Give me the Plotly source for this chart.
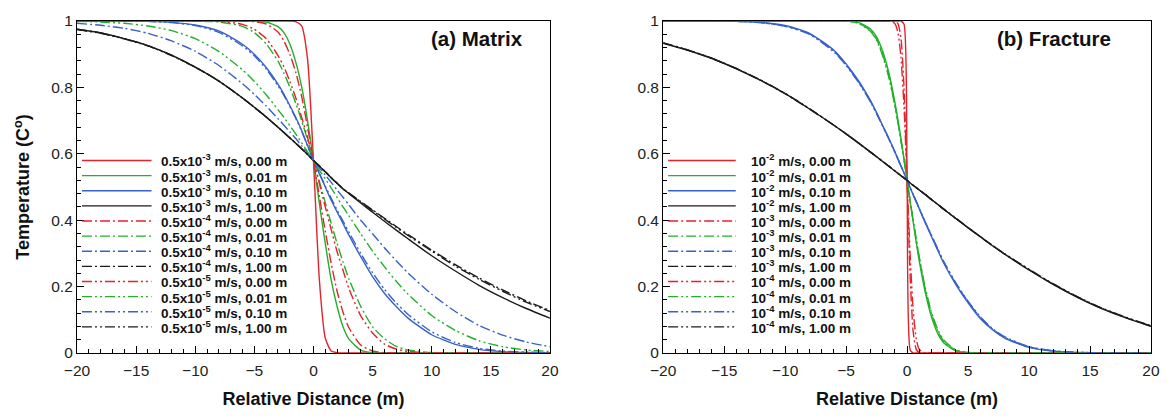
import plotly.graph_objects as go

# ---------------- (a) Matrix: temperature profiles ----------------
dist_matrix = [-20, -18, -16, -14, -12, -10, -8, -6, -5, -4, -3, -2.5, -2, -1.5, -1, -0.5,
               0, 0.5, 1, 1.5, 2, 2.5, 3, 4, 5, 6, 7, 8, 10, 12, 14, 16, 18, 20]

m3_d000 = [1, 1, 1, 1, 1, 1, 1, 1, 1, 1, 1, 1, 1, 0.998, 0.985, 0.885, 0.58, 0.22, 0.045,
           0.006, 0.001, 0, 0, 0, 0, 0, 0, 0, 0, 0, 0, 0, 0, 0]
m3_d001 = [1, 1, 1, 1, 1, 1, 1, 1, 1, 0.997, 0.983, 0.965, 0.931, 0.877, 0.802, 0.70, 0.58,
           0.45, 0.33, 0.22, 0.14, 0.079, 0.042, 0.009, 0.001, 0, 0, 0, 0, 0, 0, 0, 0, 0]
m3_d010 = [1, 1, 1, 0.999, 0.996, 0.988, 0.97, 0.93, 0.90, 0.86, 0.81, 0.78, 0.745, 0.71,
           0.67, 0.625, 0.58, 0.54, 0.50, 0.46, 0.425, 0.39, 0.355, 0.29, 0.23, 0.18, 0.14,
           0.105, 0.055, 0.026, 0.011, 0.004, 0.0015, 0.0005]
m3_d100 = [0.975, 0.964, 0.947, 0.926, 0.897, 0.861, 0.819, 0.768, 0.74, 0.711, 0.68, 0.664,
           0.648, 0.632, 0.615, 0.598, 0.58, 0.563, 0.546, 0.528, 0.511, 0.494, 0.48, 0.452,
           0.424, 0.397, 0.37, 0.344, 0.293, 0.247, 0.204, 0.167, 0.134, 0.105]

m4_d000 = [1, 1, 1, 1, 1, 1, 1, 1, 0.998, 0.991, 0.967, 0.94, 0.90, 0.846, 0.773, 0.68, 0.58,
           0.472, 0.367, 0.27, 0.186, 0.123, 0.076, 0.024, 0.006, 0.001, 0, 0, 0, 0, 0, 0, 0, 0]
m4_d001 = [1, 1, 1, 1, 1, 1, 0.997, 0.984, 0.965, 0.931, 0.879, 0.843, 0.801, 0.753, 0.70,
           0.642, 0.58, 0.517, 0.453, 0.39, 0.33, 0.274, 0.223, 0.14, 0.079, 0.043, 0.02,
           0.009, 0.0014, 0, 0, 0, 0, 0]
m4_d010 = [0.993, 0.987, 0.978, 0.963, 0.94, 0.909, 0.866, 0.811, 0.779, 0.744, 0.706, 0.686,
           0.666, 0.646, 0.624, 0.603, 0.58, 0.558, 0.536, 0.514, 0.491, 0.469, 0.446, 0.40,
           0.359, 0.317, 0.278, 0.241, 0.177, 0.125, 0.083, 0.054, 0.033, 0.019]
m4_d100 = [0.975, 0.964, 0.947, 0.926, 0.897, 0.861, 0.819, 0.768, 0.74, 0.711, 0.68, 0.664,
           0.648, 0.632, 0.615, 0.598, 0.58, 0.563, 0.546, 0.528, 0.511, 0.495, 0.482, 0.456,
           0.431, 0.406, 0.381, 0.357, 0.31, 0.266, 0.226, 0.19, 0.157, 0.128]

m5_d000 = [1, 1, 1, 1, 1, 1, 0.999, 0.99, 0.975, 0.947, 0.896, 0.862, 0.818, 0.769, 0.71,
           0.649, 0.58, 0.51, 0.44, 0.372, 0.305, 0.249, 0.194, 0.112, 0.06, 0.027, 0.012,
           0.0045, 0.0004, 0, 0, 0, 0, 0]
m5_d001 = [0.999, 0.997, 0.993, 0.985, 0.971, 0.947, 0.908, 0.853, 0.818, 0.778, 0.733, 0.71,
           0.685, 0.66, 0.633, 0.606, 0.58, 0.55, 0.525, 0.497, 0.469, 0.44, 0.413, 0.359,
           0.307, 0.26, 0.216, 0.177, 0.113, 0.068, 0.037, 0.019, 0.009, 0.0045]
m5_d010 = [1, 1, 1, 0.999, 0.995, 0.986, 0.966, 0.925, 0.895, 0.855, 0.805, 0.776, 0.742,
           0.707, 0.668, 0.624, 0.58, 0.542, 0.503, 0.466, 0.431, 0.397, 0.364, 0.30, 0.242,
           0.192, 0.151, 0.116, 0.064, 0.032, 0.014, 0.006, 0.0025, 0.001]
m5_d100 = [0.974, 0.963, 0.946, 0.925, 0.896, 0.861, 0.819, 0.768, 0.74, 0.711, 0.68, 0.664,
           0.648, 0.632, 0.615, 0.598, 0.58, 0.563, 0.546, 0.528, 0.511, 0.495, 0.481, 0.455,
           0.429, 0.404, 0.378, 0.354, 0.307, 0.262, 0.222, 0.186, 0.153, 0.125]

matrix_labels = [
    "0.5x10<sup>-3</sup> m/s, 0.00 m", "0.5x10<sup>-3</sup> m/s, 0.01 m",
    "0.5x10<sup>-3</sup> m/s, 0.10 m", "0.5x10<sup>-3</sup> m/s, 1.00 m",
    "0.5x10<sup>-4</sup> m/s, 0.00 m", "0.5x10<sup>-4</sup> m/s, 0.01 m",
    "0.5x10<sup>-4</sup> m/s, 0.10 m", "0.5x10<sup>-4</sup> m/s, 1.00 m",
    "0.5x10<sup>-5</sup> m/s, 0.00 m", "0.5x10<sup>-5</sup> m/s, 0.01 m",
    "0.5x10<sup>-5</sup> m/s, 0.10 m", "0.5x10<sup>-5</sup> m/s, 1.00 m",
]
matrix_series = [m3_d000, m3_d001, m3_d010, m3_d100,
                 m4_d000, m4_d001, m4_d010, m4_d100,
                 m5_d000, m5_d001, m5_d010, m5_d100]

# ---------------- (b) Fracture: temperature profiles ----------------
dist_fracture = [-20, -18, -16, -14, -12, -10, -8, -6, -5, -4, -3, -2.5, -2, -1.5, -1, -0.75,
                 -0.5, -0.25, 0, 0.25, 0.5, 0.75, 1, 1.5, 2, 2.5, 3, 4, 5, 6, 7, 8, 10, 12,
                 14, 16, 18, 20]

f2_d000 = [1] * 17 + [0.99, 0.52, 0.01] + [0] * 18
f2_d001 = [1] * 9 + [0.996, 0.976, 0.952, 0.909, 0.845, 0.756, 0.703, 0.645, 0.584, 0.52,
                     0.456, 0.394, 0.333, 0.277, 0.181, 0.109, 0.06, 0.031, 0.006, 0.001] + [0] * 9
f2_d010 = [1, 1, 1, 0.999, 0.996, 0.987, 0.963, 0.912, 0.871, 0.821, 0.76, 0.724, 0.685,
           0.647, 0.606, 0.585, 0.563, 0.542, 0.52, 0.498, 0.476, 0.455, 0.434, 0.391, 0.351,
           0.31, 0.271, 0.206, 0.151, 0.104, 0.07, 0.045, 0.017, 0.0055, 0.0015, 0.0004, 0, 0]
f2_d100 = [0.933, 0.912, 0.887, 0.856, 0.821, 0.781, 0.735, 0.686, 0.66, 0.633, 0.605, 0.591,
           0.577, 0.563, 0.548, 0.541, 0.534, 0.527, 0.52, 0.512, 0.505, 0.498, 0.491, 0.477,
           0.462, 0.448, 0.433, 0.405, 0.377, 0.35, 0.323, 0.298, 0.25, 0.206, 0.167, 0.133,
           0.105, 0.08]

f3_d000 = [1] * 14 + [0.999, 0.992, 0.948, 0.798, 0.52, 0.231, 0.064, 0.011, 0.001] + [0] * 15
f3_d001 = [1] * 9 + [0.994, 0.971, 0.945, 0.899, 0.835, 0.747, 0.696, 0.64, 0.582, 0.52,
                     0.458, 0.398, 0.34, 0.285, 0.19, 0.118, 0.068, 0.036, 0.008, 0.0015] + [0] * 9
f3_d010 = [1, 1, 1, 0.999, 0.995, 0.985, 0.961, 0.909, 0.868, 0.818, 0.758, 0.722, 0.684,
           0.646, 0.605, 0.584, 0.563, 0.542, 0.52, 0.499, 0.477, 0.456, 0.435, 0.393, 0.353,
           0.313, 0.274, 0.209, 0.154, 0.107, 0.072, 0.047, 0.018, 0.006, 0.0017, 0.0005, 0, 0]
f3_d100 = [0.934, 0.913, 0.887, 0.857, 0.821, 0.781, 0.735, 0.686, 0.66, 0.633, 0.605, 0.591,
           0.577, 0.563, 0.548, 0.541, 0.534, 0.527, 0.52, 0.512, 0.505, 0.498, 0.491, 0.477,
           0.462, 0.448, 0.433, 0.405, 0.378, 0.35, 0.324, 0.298, 0.251, 0.207, 0.168, 0.134,
           0.106, 0.081]

f4_d000 = [1] * 14 + [0.992, 0.965, 0.89, 0.738, 0.52, 0.295, 0.129, 0.043, 0.011] + [0] * 15
f4_d001 = [1] * 9 + [0.993, 0.969, 0.942, 0.895, 0.831, 0.744, 0.694, 0.639, 0.581, 0.52,
                     0.459, 0.40, 0.343, 0.289, 0.195, 0.123, 0.072, 0.039, 0.009, 0.002] + [0] * 9
f4_d010 = [1, 1, 1, 0.999, 0.995, 0.984, 0.96, 0.907, 0.866, 0.816, 0.756, 0.721, 0.683,
           0.645, 0.605, 0.584, 0.563, 0.542, 0.52, 0.499, 0.478, 0.457, 0.436, 0.394, 0.355,
           0.315, 0.276, 0.211, 0.156, 0.109, 0.074, 0.049, 0.019, 0.0065, 0.002, 0.0006, 0, 0]
f4_d100 = [0.934, 0.913, 0.888, 0.857, 0.822, 0.782, 0.736, 0.686, 0.66, 0.633, 0.605, 0.591,
           0.577, 0.563, 0.548, 0.541, 0.534, 0.527, 0.52, 0.512, 0.505, 0.498, 0.491, 0.477,
           0.463, 0.448, 0.434, 0.406, 0.378, 0.351, 0.324, 0.299, 0.252, 0.208, 0.169, 0.135,
           0.107, 0.082]

fracture_labels = [
    "10<sup>-2</sup> m/s, 0.00 m", "10<sup>-2</sup> m/s, 0.01 m",
    "10<sup>-2</sup> m/s, 0.10 m", "10<sup>-2</sup> m/s, 1.00 m",
    "10<sup>-3</sup> m/s, 0.00 m", "10<sup>-3</sup> m/s, 0.01 m",
    "10<sup>-3</sup> m/s, 0.10 m", "10<sup>-3</sup> m/s, 1.00 m",
    "10<sup>-4</sup> m/s, 0.00 m", "10<sup>-4</sup> m/s, 0.01 m",
    "10<sup>-4</sup> m/s, 0.10 m", "10<sup>-4</sup> m/s, 1.00 m",
]
fracture_series = [f2_d000, f2_d001, f2_d010, f2_d100,
                   f3_d000, f3_d001, f3_d010, f3_d100,
                   f4_d000, f4_d001, f4_d010, f4_d100]

# ---------------- styling ----------------
FONT = "Liberation Sans, Arial, Helvetica, sans-serif"
distance_colors = ["#e3232b", "#22b02a", "#3762c8", "#1b1b1b"]   # 0.00, 0.01, 0.10, 1.00 m
velocity_dashes = ["solid", "10px,3px,2px,3px", "10px,3px,2px,3px,2px,3px"]
LINE_W = 1.4

fig = go.Figure()


def add_panel(xvals, series, labels, xa, ya):
    for i, (ys, lab) in enumerate(zip(series, labels)):
        fig.add_trace(go.Scatter(
            x=xvals, y=ys, mode="lines", name=lab, showlegend=False,
            xaxis=xa, yaxis=ya,
            line=dict(color=distance_colors[i % 4], dash=velocity_dashes[i // 4],
                      width=LINE_W, shape="spline", smoothing=0.6),
        ))


add_panel(dist_matrix, matrix_series, matrix_labels, "x", "y")
add_panel(dist_fracture, fracture_series, fracture_labels, "x2", "y2")

# plot-area geometry in pixels (figure 1172 x 419)
W, H = 1172, 419
ML, MR, MT, MB = 77, 14, 15, 66
plot_w = W - ML - MR
plot_h = H - MT - MB
left_px = (77, 553)
right_px = (667, 1158)


def dom(px):
    return [(px[0] - ML) / plot_w, (px[1] - ML) / plot_w]


axis_common = dict(
    showline=True, linecolor="black", linewidth=1.2, mirror=True,
    showgrid=False, zeroline=False,
    ticks="inside", ticklen=7, tickwidth=1, tickcolor="black",
    tickfont=dict(family=FONT, size=15.5, color="#222"),
)
xaxis_common = dict(axis_common, range=[-20, 20], tick0=-20, dtick=5, ticklabelstandoff=3,
                    minor=dict(dtick=1, ticks="inside", ticklen=4, tickcolor="black"))
yaxis_common = dict(axis_common, range=[0, 1], dtick=0.2,
                    minor=dict(dtick=0.04, ticks="inside", ticklen=4, tickcolor="black"))

xtitle = dict(text="<b>Relative Distance (m)</b>", font=dict(family=FONT, size=18, color="#111"),
              standoff=14)

fig.update_layout(
    width=W, height=H,
    margin=dict(l=ML, r=MR, t=MT, b=MB),
    paper_bgcolor="white", plot_bgcolor="white",
    showlegend=False,
    xaxis=dict(xaxis_common, domain=dom(left_px), anchor="y", title=xtitle),
    yaxis=dict(yaxis_common, domain=[0, 1], anchor="x",
               title=dict(text="<b>Temperature (C<sup>o</sup>)</b>",
                          font=dict(family=FONT, size=18, color="#111"), standoff=16)),
    xaxis2=dict(xaxis_common, domain=dom(right_px), anchor="y2", title=xtitle),
    yaxis2=dict(yaxis_common, domain=[0, 1], anchor="x2"),
)

# panel titles
title_y = 1 - (33 - MT) / plot_h
fig.add_annotation(text="<b>(a) Matrix</b>", xref="x domain", yref="y domain",
                   x=(480 - left_px[0]) / (left_px[1] - left_px[0]), y=title_y,
                   xanchor="center", yanchor="middle",
                   showarrow=False, font=dict(family=FONT, size=20.5, color="#111"))
fig.add_annotation(text="<b>(b) Fracture</b>", xref="x2 domain", yref="y2 domain",
                   x=(1060 - right_px[0]) / (right_px[1] - right_px[0]), y=title_y,
                   xanchor="center", yanchor="middle",
                   showarrow=False, font=dict(family=FONT, size=20.5, color="#111"))


# legend keys drawn inside each panel
def add_key(labels, xref, yref, px, sample_px, text_px):
    width = px[1] - px[0]
    for i, lab in enumerate(labels):
        yk = 1 - (157 + 15.4 * i - MT) / plot_h
        fig.add_shape(type="line", xref=xref, yref=yref,
                      x0=(sample_px[0] - px[0]) / width, x1=(sample_px[1] - px[0]) / width,
                      y0=yk, y1=yk,
                      line=dict(color=distance_colors[i % 4], dash=velocity_dashes[i // 4],
                                width=LINE_W))
        fig.add_annotation(text="<b>" + lab + "</b>", xref=xref, yref=yref,
                           x=(text_px - px[0]) / width, y=yk, xanchor="left", yanchor="middle",
                           showarrow=False, font=dict(family=FONT, size=13.5, color="#111"))


add_key(matrix_labels, "x domain", "y domain", left_px, (82, 152), 160)
add_key(fracture_labels, "x2 domain", "y2 domain", right_px, (672, 740), 753)

fig.write_html("out.html")
